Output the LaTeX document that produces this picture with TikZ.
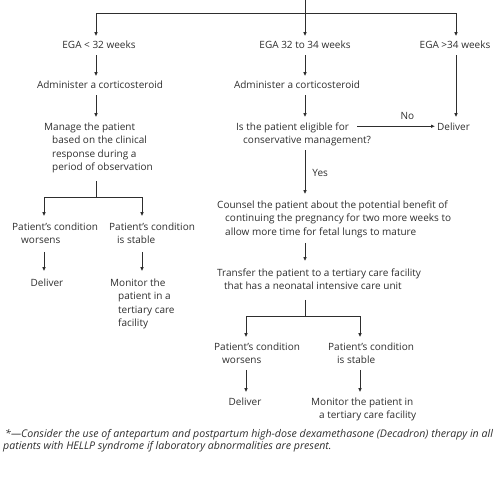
\documentclass[tikz,border=0pt]{standalone}
\usepackage{fontspec}
\setmainfont{Open Sans}
\usetikzlibrary{arrows.meta}
\definecolor{ink}{HTML}{2E2E2E}
\begin{document}
\begin{tikzpicture}[x=1pt,y=-1pt,
  txt/.style={inner sep=0pt,align=left,font=\fontsize{10}{13.6}\selectfont,text=ink},
  ln/.style={draw=ink,line width=0.8pt},
  arr/.style={ln,-{Latex[length=4pt,width=3.6pt]}},
  lbl/.style={inner sep=0pt,font=\fontsize{10}{13.6}\selectfont,text=ink},
  note/.style={inner sep=0pt,align=left,font=\fontsize{10.6}{12}\selectfont\itshape,text=ink},
]
\useasboundingbox (0,0) rectangle (500,477);
% column coordinates
\coordinate (top) at (305,0);
\coordinate (hub) at (305,13);
\coordinate (colA) at (96,0);
\coordinate (colM) at (305,0);
\coordinate (colR) at (456,0);
\coordinate (xA1) at (44,0);
\coordinate (xA2) at (142,0);
\coordinate (xB1) at (246,0);
\coordinate (xB2) at (360,0);
\coordinate (splitA) at (96,197);
\coordinate (splitB) at (305,316);

% nodes (base anchor = baseline of the last line)
\node[txt,anchor=base] (egaA) at (99,48) {EGA < 32 weeks};
\node[txt,anchor=base] (egaB) at (305,48) {EGA 32 to 34 weeks};
\node[txt,anchor=base] (egaC) at (455,48) {EGA >34 weeks};
\node[txt,anchor=base] (admA) at (100,88) {Administer a corticosteroid};
\node[txt,anchor=base] (admB) at (297,88) {Administer a corticosteroid};
\node[txt,anchor=base west] (manage) at (44,170.8) {Manage the patient\\\hspace*{8pt}based on the clinical\\\hspace*{8pt}response during a\\\hspace*{8pt}period of observation};
\node[txt,anchor=base west] (elig) at (236,143.6) {Is the patient eligible for\\\hspace*{7pt}conservative management?};
\node[txt,anchor=base west] (delC) at (437,130) {Deliver};
\node[txt,anchor=base west] (counsel) at (217,235.2) {Counsel the patient about the potential benefit of\\\hspace*{8pt}continuing the pregnancy for two more weeks to\\\hspace*{8pt}allow more time for fetal lungs to mature};
\node[txt,anchor=base west] (transfer) at (217,289.6) {Transfer the patient to a tertiary care facility\\\hspace*{7pt}that has a neonatal intensive care unit};
\node[txt,anchor=base west] (pwA) at (12,243.6) {Patient’s condition\\\hspace*{9pt}worsens};
\node[txt,anchor=base west] (psA) at (109,243.6) {Patient’s condition\\\hspace*{8pt}is stable};
\node[txt,anchor=base] (delA) at (47,286) {Deliver};
\node[txt,anchor=base west] (monA) at (110,326.8) {Monitor the\\\hspace*{8pt}patient in a\\\hspace*{8pt}tertiary care\\\hspace*{8pt}facility};
\node[txt,anchor=base west] (pwB) at (214,363.6) {Patient’s condition\\\hspace*{8pt}worsens};
\node[txt,anchor=base west] (psB) at (328,363.6) {Patient’s condition\\\hspace*{9pt}is stable};
\node[txt,anchor=base] (delB) at (245,405) {Deliver};
\node[txt,anchor=base west] (monB) at (311,418.6) {Monitor the patient in\\\hspace*{8pt}a tertiary care facility};
\node[note,anchor=base west] (fn) at (5,449) {*—Consider the use of antepartum and postpartum high-dose dexamethasone (Decadron) therapy in all\\\hspace*{-2pt}patients with HELLP syndrome if laboratory abnormalities are present.};

% connectors
\draw[ln] (top) -- (hub);
\draw[arr,shorten >=4pt] (hub) -| (colA |- egaA.north);
\draw[arr,shorten >=4pt] (hub) -- (colM |- egaB.north);
\draw[arr,shorten >=4pt] (hub) -| (colR |- egaC.north);

\draw[arr,shorten <=7pt,shorten >=4pt] (colA |- egaA.south) -- (colA |- admA.north);
\draw[arr,shorten <=7pt,shorten >=5pt] (colA |- admA.south) -- (colA |- manage.north);
\draw[ln,shorten <=8pt] (colA |- manage.south) -- (splitA);
\draw[arr,shorten >=6pt] (splitA) -| (xA1 |- pwA.north);
\draw[arr,shorten >=6pt] (splitA) -| (xA2 |- psA.north);
\draw[arr,shorten <=8pt,shorten >=7pt] (xA1 |- pwA.south) -- (xA1 |- delA.north);
\draw[arr,shorten <=8pt,shorten >=7pt] (xA2 |- psA.south) -- (xA2 |- monA.north);

\draw[arr,shorten <=7pt,shorten >=4pt] (colM |- egaB.south) -- (colM |- admB.north);
\draw[arr,shorten <=7pt,shorten >=5pt] (colM |- admB.south) -- (colM |- elig.north);
\draw[arr,shorten >=2pt] ([xshift=-14pt]elig.east |- delC.west) -- node[lbl,pos=0.63,above=6pt] (no) {No} (delC.west);
\draw[arr,shorten <=7pt,shorten >=5pt] (colR |- egaC.south) -- (colR |- delC.north);
\draw[arr,shorten <=4pt,shorten >=6pt] (colM |- elig.south) -- node[lbl,right=7pt] (yes) {Yes} (colM |- counsel.north);
\draw[arr,shorten <=5pt,shorten >=7pt] (colM |- counsel.south) -- (colM |- transfer.north);
\draw[ln,shorten <=10pt] (colM |- transfer.south) -- (splitB);
\draw[arr,shorten >=5pt] (splitB) -| (xB1 |- pwB.north);
\draw[arr,shorten >=5pt] (splitB) -| (xB2 |- psB.north);
\draw[arr,shorten <=6pt,shorten >=5pt] (xB1 |- pwB.south) -- (xB1 |- delB.north);
\draw[arr,shorten <=6pt,shorten >=5pt] (xB2 |- psB.south) -- (xB2 |- monB.north);
\end{tikzpicture}
\end{document}
